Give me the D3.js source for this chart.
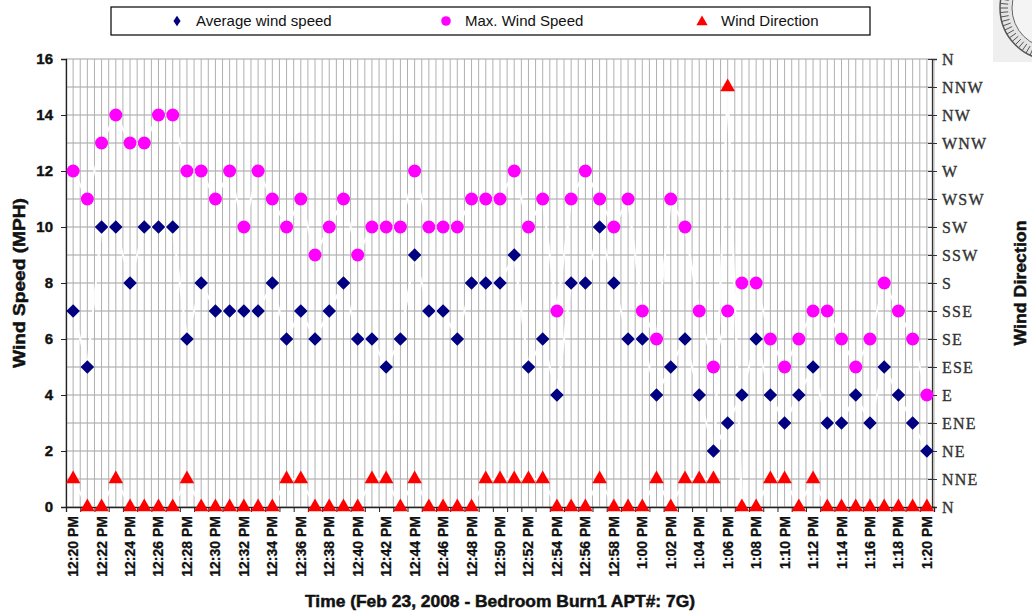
<!DOCTYPE html>
<html><head><meta charset="utf-8">
<script src="https://cdn.jsdelivr.net/npm/d3@7"></script>
<style>
html,body{margin:0;padding:0;background:#fff;}
svg{display:block;}
</style></head>
<body>
<svg id="chart" width="1032" height="612"></svg>
<script>
const times = ["12:20 PM","12:21 PM","12:22 PM","12:23 PM","12:24 PM","12:25 PM","12:26 PM","12:27 PM","12:28 PM","12:29 PM",
"12:30 PM","12:31 PM","12:32 PM","12:33 PM","12:34 PM","12:35 PM","12:36 PM","12:37 PM","12:38 PM","12:39 PM",
"12:40 PM","12:41 PM","12:42 PM","12:43 PM","12:44 PM","12:45 PM","12:46 PM","12:47 PM","12:48 PM","12:49 PM",
"12:50 PM","12:51 PM","12:52 PM","12:53 PM","12:54 PM","12:55 PM","12:56 PM","12:57 PM","12:58 PM","12:59 PM",
"1:00 PM","1:01 PM","1:02 PM","1:03 PM","1:04 PM","1:05 PM","1:06 PM","1:07 PM","1:08 PM","1:09 PM",
"1:10 PM","1:11 PM","1:12 PM","1:13 PM","1:14 PM","1:15 PM","1:16 PM","1:17 PM","1:18 PM","1:19 PM","1:20 PM"];
const avgSpeed = [7,5,10,10,8,10,10,10,6,8, 7,7,7,7,8,6,7,6,7,8, 6,6,5,6,9,7,7,6,8,8, 8,9,5,6,4,8,8,10,8,6, 6,4,5,6,4,2,3,4,6,4, 3,4,5,3,3,4,3,5,4,3,2];
const maxSpeed = [12,11,13,14,13,13,14,14,12,12, 11,12,10,12,11,10,11,9,10,11, 9,10,10,10,12,10,10,10,11,11, 11,12,10,11,7,11,12,11,10,11, 7,6,11,10,7,5,7,8,8,6, 5,6,7,7,6,5,6,8,7,6,4];
const direction = [1,0,0,1,0,0,0,0,1,0, 0,0,0,0,0,1,1,0,0,0, 0,1,1,0,1,0,0,0,0,1, 1,1,1,1,0,0,0,1,0,0, 0,1,0,1,1,1,15,0,0,1, 1,0,1,0,0,0,0,0,0,0,0];
const directionLabels = ["N","NNE","NE","ENE","E","ESE","SE","SSE","S","SSW","SW","WSW","W","WNW","NW","NNW","N"];
const speedTicks = [0,2,4,6,8,10,12,14,16];
const seriesNames = ["Average wind speed","Max. Wind Speed","Wind Direction"];

const svg = d3.select("#chart");
const L = 66, R = 932, T = 59, B = 507;

const x = d3.scaleBand().domain(times).range([L, R + 2]).padding(0);
const xi = d3.scaleLinear().domain([0, times.length]).range([L, R + 2]);
const y = d3.scaleLinear().domain([0, 16]).range([B, T]);
const yDir = d3.scaleLinear().domain([0, 16]).range([B, T]);
const cx = d => x(d) + x.bandwidth() / 2;

// gridlines
const g = svg.append("g");
g.selectAll("line.h").data(d3.range(0, 17)).join("line")
  .attr("x1", L).attr("x2", R).attr("y1", d => y(d)).attr("y2", d => y(d))
  .attr("stroke", "#a0a0a0").attr("stroke-width", 1);
g.selectAll("line.v").data(d3.range(0, times.length * 2 + 1)).join("line")
  .attr("x1", d => xi(d / 2)).attr("x2", d => xi(d / 2)).attr("y1", T).attr("y2", B)
  .attr("stroke", "#b0b0b0").attr("stroke-width", 1);

// white connecting lines (as in reference)
const lineGen = (vals, sc) => d3.line().x((d, i) => cx(times[i])).y(d => sc(d))(vals);
[[avgSpeed, y], [maxSpeed, y], [direction, yDir]].forEach(([v, sc]) => {
  svg.append("path").attr("d", lineGen(v, sc)).attr("fill", "none")
    .attr("stroke", "#fff").attr("stroke-width", 2.2).attr("opacity", 0.9);
});

// axes
const axL = svg.append("g").attr("transform", `translate(${L},0)`)
  .call(d3.axisLeft(y).tickValues(speedTicks).tickSize(5).tickPadding(8).tickFormat(d3.format("d")));
axL.select(".domain").attr("stroke", "#222").attr("stroke-width", 1.3);
axL.selectAll(".tick line").attr("stroke", "#222");
axL.selectAll("text").attr("font-family", "Liberation Sans, Arial, sans-serif").attr("font-weight", "bold")
  .attr("font-size", 15).attr("fill", "#111").attr("stroke", "#111").attr("stroke-width", 0.4);

const axR = svg.append("g").attr("transform", `translate(${R},0)`)
  .call(d3.axisRight(yDir).tickValues(d3.range(0, 17)).tickSize(5).tickPadding(5).tickFormat(d => directionLabels[d]));
axR.select(".domain").attr("stroke", "#333").attr("stroke-width", 1.3);
axR.selectAll(".tick line").attr("x1", -4).attr("stroke", "#333");
axR.selectAll("text").attr("font-family", "Liberation Serif, Times New Roman, serif")
  .attr("font-size", 16).attr("letter-spacing", 1.2).attr("fill", "#333")
  .attr("stroke", "#333").attr("stroke-width", 0.35);

const axB = svg.append("g").attr("transform", `translate(0,${B})`)
  .call(d3.axisBottom(xi).tickValues(d3.range(0, times.length + 1)).tickSize(5).tickFormat(""));
axB.select(".domain").attr("stroke", "#222").attr("stroke-width", 1.3);
axB.selectAll(".tick line").attr("stroke", "#222");

svg.append("g").selectAll("text").data(times.filter((d, i) => i % 2 === 0)).join("text")
  .attr("transform", d => `translate(${cx(d) + 5},${B + 9}) rotate(-90)`)
  .attr("text-anchor", "end")
  .attr("font-family", "Liberation Sans, Arial, sans-serif").attr("font-weight", "bold")
  .attr("font-size", 14).attr("fill", "#111").attr("stroke", "#111").attr("stroke-width", 0.3).text(d => d);

// markers
const mk = svg.append("g");
mk.selectAll("path.dir").data(direction).join("path")
  .attr("d", d3.symbol(d3.symbolTriangle, 92))
  .attr("transform", (d, i) => `translate(${cx(times[i])},${yDir(d)})`)
  .attr("fill", "#ff0000");
mk.selectAll("circle.max").data(maxSpeed).join("circle")
  .attr("cx", (d, i) => cx(times[i])).attr("cy", d => y(d)).attr("r", 6.5)
  .attr("fill", "#ff00ff");
mk.selectAll("path.avg").data(avgSpeed).join("path")
  .attr("d", d3.symbol(d3.symbolSquare, 92))
  .attr("transform", (d, i) => `translate(${cx(times[i])},${y(d)}) rotate(45)`)
  .attr("fill", "#000080");

// axis titles
svg.append("text").attr("transform", `translate(25,${(T + B) / 2}) rotate(-90)`)
  .attr("text-anchor", "middle").attr("font-family", "Liberation Sans, Arial, sans-serif")
  .attr("font-weight", "bold").attr("font-size", 17).attr("textLength", 170).attr("lengthAdjust", "spacingAndGlyphs")
  .attr("fill", "#111").attr("stroke", "#111").attr("stroke-width", 0.5).text("Wind Speed (MPH)");
svg.append("text").attr("transform", `translate(1026,283) rotate(-90)`)
  .attr("text-anchor", "middle").attr("font-family", "Liberation Sans, Arial, sans-serif")
  .attr("font-weight", "bold").attr("font-size", 17).attr("textLength", 125).attr("lengthAdjust", "spacingAndGlyphs")
  .attr("fill", "#111").attr("stroke", "#111").attr("stroke-width", 0.5).text("Wind Direction");
svg.append("text").attr("x", 500).attr("y", 607)
  .attr("text-anchor", "middle").attr("font-family", "Liberation Sans, Arial, sans-serif")
  .attr("font-weight", "bold").attr("font-size", 17).attr("textLength", 390).attr("lengthAdjust", "spacingAndGlyphs")
  .attr("fill", "#111").attr("stroke", "#111").attr("stroke-width", 0.5).text("Time (Feb 23, 2008 - Bedroom Burn1 APT#: 7G)");

// legend
const lg = svg.append("g");
lg.append("rect").attr("x", 111).attr("y", 7).attr("width", 759).attr("height", 28)
  .attr("fill", "#fff").attr("stroke", "#000").attr("stroke-width", 1.2);
const legX = [177, 446, 702];
lg.append("path").attr("d", d3.symbol(d3.symbolSquare, 40)).attr("transform", `translate(${legX[0]},21) scale(0.8,1.2) rotate(45)`).attr("fill", "#000080");
lg.append("circle").attr("cx", legX[1]).attr("cy", 21).attr("r", 4.8).attr("fill", "#ff00ff");
lg.append("path").attr("d", d3.symbol(d3.symbolTriangle, 55)).attr("transform", `translate(${legX[2]},22)`).attr("fill", "#ff0000");
lg.selectAll("text").data(seriesNames).join("text")
  .attr("x", (d, i) => legX[i] + 19).attr("y", 26)
  .attr("font-family", "Liberation Sans, Arial, sans-serif").attr("font-size", 15).attr("fill", "#111").text(d => d);

// compass fragment (top right)
const cp = svg.append("g");
cp.append("rect").attr("x", 993).attr("y", 0).attr("width", 39).attr("height", 62).attr("fill", "#efefef");
cp.append("circle").attr("cx", 1052).attr("cy", 8).attr("r", 52).attr("fill", "#e4e4e4").attr("stroke", "#555").attr("stroke-width", 1.5);
cp.append("circle").attr("cx", 1052).attr("cy", 8).attr("r", 40).attr("fill", "#f4f4f4").attr("stroke", "#666").attr("stroke-width", 1);
cp.selectAll("line.ct").data(d3.range(0, 72)).join("line")
  .attr("x1", d => 1052 + 44 * Math.cos(d * Math.PI / 36)).attr("y1", d => 8 + 44 * Math.sin(d * Math.PI / 36))
  .attr("x2", d => 1052 + 52 * Math.cos(d * Math.PI / 36)).attr("y2", d => 8 + 52 * Math.sin(d * Math.PI / 36))
  .attr("stroke", "#555").attr("stroke-width", 1);
</script>
</body></html>
